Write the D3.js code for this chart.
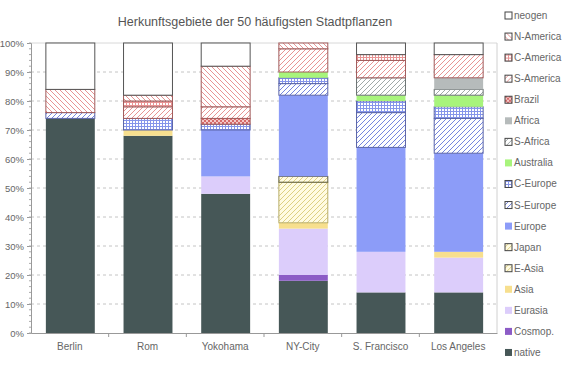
<html>
<head>
<script src="https://cdn.jsdelivr.net/npm/d3@7"></script>
<style>
    body { margin: 0; background: white; font-family: "Liberation Sans", Arial, sans-serif; }
    svg { display: block; }
</style>
</head>
<body>
<svg id="chart"></svg>
<script>
    // data
    let cities = ["Berlin", "Rom", "Yokohama", "NY-City", "S. Francisco", "Los Angeles"];
    let regions = ["native", "Cosmop.", "Eurasia", "Asia", "E-Asia", "Japan", "Europe", "S-Europe",
        "C-Europe", "Australia", "S-Africa", "Africa", "Brazil", "S-America", "C-America", "N-America", "neogen"];

    let native    = [74, 68, 48, 18, 14, 14];
    let cosmop    = [0, 0, 0, 2, 0, 0];
    let eurasia   = [0, 0, 6, 16, 14, 12];
    let asia      = [0, 2, 0, 2, 0, 2];
    let eAsia     = [0, 0, 0, 14, 0, 0];
    let japan     = [0, 0, 0, 2, 0, 0];
    let europe    = [0, 0, 16, 28, 36, 34];
    let sEurope   = [2, 0, 0, 4, 12, 12];
    let cEurope   = [0, 4, 2, 2, 4, 4];
    let australia = [0, 0, 0, 2, 2, 4];
    let sAfrica   = [0, 0, 0, 0, 6, 2];
    let africa    = [0, 0, 0, 0, 0, 4];
    let brazil    = [0, 0, 2, 0, 0, 0];
    let sAmerica  = [0, 4, 4, 8, 6, 8];
    let cAmerica  = [0, 2, 0, 0, 2, 0];
    let nAmerica  = [8, 2, 14, 2, 0, 0];
    let neogen    = [16, 18, 8, 0, 4, 4];

    let yTicks = [0, 10, 20, 30, 40, 50, 60, 70, 80, 90, 100];

    let seriesValues = [native, cosmop, eurasia, asia, eAsia, japan, europe, sEurope,
        cEurope, australia, sAfrica, africa, brazil, sAmerica, cAmerica, nAmerica, neogen];

    // table for d3.stack
    let table = cities.map((c, i) => {
        let row = { city: c };
        regions.forEach((r, j) => row[r] = seriesValues[j][i]);
        return row;
    });

    // styles per region: fill + stroke
    let styles = {
        "native":    { fill: "#465757", stroke: "none" },
        "Cosmop.":   { fill: "#8c5cc6", stroke: "none" },
        "Eurasia":   { fill: "#dccdfb", stroke: "none" },
        "Asia":      { fill: "#f7df8e", stroke: "none" },
        "E-Asia":    { fill: "url(#hatchYellow)", stroke: "#b8ad6a" },
        "Japan":     { fill: "url(#hatchYellow)", stroke: "#5c5a3c" },
        "Europe":    { fill: "#8c9cf8", stroke: "none" },
        "S-Europe":  { fill: "url(#hatchBlue)", stroke: "#5a64a8" },
        "C-Europe":  { fill: "url(#gridBlue)", stroke: "#5a64a8" },
        "Australia": { fill: "#a8f47c", stroke: "none" },
        "S-Africa":  { fill: "url(#hatchGray)", stroke: "#6a7272" },
        "Africa":    { fill: "#b6bbbb", stroke: "none" },
        "Brazil":    { fill: "url(#checkRed)", stroke: "#a05a5a" },
        "S-America": { fill: "url(#hatchRed)", stroke: "#a05a5a" },
        "C-America": { fill: "url(#gridRed)", stroke: "#a05a5a" },
        "N-America": { fill: "url(#backRed)", stroke: "#a05a5a" },
        "neogen":    { fill: "#ffffff", stroke: "#555" }
    };

    let width = 567, height = 371;
    let margin = { top: 43, bottom: 38, left: 31, right: 70 };
    let svg = d3.select("#chart").attr("width", width).attr("height", height);

    // patterns
    let defs = svg.append("defs");
    function hatch(id, color, bg, dir) {
        let p = defs.append("pattern").attr("id", id)
            .attr("patternUnits", "userSpaceOnUse").attr("width", 5).attr("height", 5);
        p.append("rect").attr("width", 5).attr("height", 5).attr("fill", bg);
        let d = dir === "/" ? "M-1,1 L1,-1 M0,5 L5,0 M4,6 L6,4" : "M-1,4 L1,6 M0,0 L5,5 M4,-1 L6,1";
        p.append("path").attr("d", d).attr("stroke", color).attr("stroke-width", 1);
    }
    function grid(id, color, bg, size) {
        let p = defs.append("pattern").attr("id", id)
            .attr("patternUnits", "userSpaceOnUse").attr("width", size).attr("height", size);
        p.append("rect").attr("width", size).attr("height", size).attr("fill", bg);
        p.append("path").attr("d", `M0,0.5 H${size} M0.5,0 V${size}`)
            .attr("stroke", color).attr("stroke-width", 1);
    }
    hatch("hatchRed", "#e89494", "#fff", "/");
    hatch("backRed", "#e89494", "#fff", "\\");
    hatch("hatchBlue", "#7585de", "#fff", "/");
    hatch("hatchGray", "#a0a8a8", "#fff", "/");
    hatch("hatchYellow", "#ddd083", "#fffbe2", "/");
    grid("gridRed", "#e89494", "#fff", 3);
    grid("gridBlue", "#8595ea", "#fff", 3);
    let cp = defs.append("pattern").attr("id", "checkRed")
        .attr("patternUnits", "userSpaceOnUse").attr("width", 4).attr("height", 4);
    cp.append("rect").attr("width", 4).attr("height", 4).attr("fill", "#f4c8c8");
    cp.append("rect").attr("width", 2).attr("height", 2).attr("fill", "#d66a6a");
    cp.append("rect").attr("x", 2).attr("y", 2).attr("width", 2).attr("height", 2).attr("fill", "#d66a6a");

    // scales
    let xScale = d3.scaleBand()
        .domain(cities)
        .range([margin.left, width - margin.right])
        .paddingInner(0.37)
        .paddingOuter(0.185);
    let xOuter = d3.scaleBand().domain(cities).range([margin.left, width - margin.right]);
    let yScale = d3.scaleLinear().domain([0, 100]).range([height - margin.bottom, margin.top]);

    // title
    svg.append("text")
        .attr("x", 255).attr("y", 26)
        .attr("text-anchor", "middle")
        .attr("font-size", 12.5)
        .attr("fill", "#555")
        .text("Herkunftsgebiete der 50 häufigsten Stadtpflanzen");

    // gridlines
    svg.append("g").selectAll("line")
        .data(yTicks.filter(t => t > 0 && t < 100))
        .enter().append("line")
        .attr("x1", margin.left).attr("x2", width - margin.right)
        .attr("y1", d => yScale(d)).attr("y2", d => yScale(d))
        .attr("stroke", "#c4c4c4").attr("stroke-dasharray", "3,3");
    svg.append("line")
        .attr("x1", margin.left).attr("x2", width - margin.right)
        .attr("y1", yScale(100)).attr("y2", yScale(100))
        .attr("stroke", "#d8d8d8");
    svg.append("line")
        .attr("x1", width - margin.right).attr("x2", width - margin.right)
        .attr("y1", yScale(100)).attr("y2", yScale(0))
        .attr("stroke", "#d0d0d0");

    // bars
    let stacked = d3.stack().keys(regions)(table);
    svg.append("g").selectAll("g")
        .data(stacked)
        .enter().append("g")
        .attr("fill", d => styles[d.key].fill)
        .attr("stroke", d => styles[d.key].stroke)
        .selectAll("rect")
        .data(d => d.filter(s => s[1] - s[0] > 0))
        .enter().append("rect")
        .attr("x", d => xScale(d.data.city) + 0.5)
        .attr("width", xScale.bandwidth())
        .attr("y", d => yScale(d[1]))
        .attr("height", d => yScale(d[0]) - yScale(d[1]));

    // axes
    let axisY = d3.axisLeft(yScale)
        .tickValues(yTicks)
        .tickSize(4)
        .tickPadding(3)
        .tickFormat(d => d + "%");
    let gy = svg.append("g")
        .attr("transform", `translate(${margin.left},0)`)
        .call(axisY);
    gy.selectAll(".tick line").attr("stroke", "#999");
    let minor = d3.range(0, 101, 2);
    gy.selectAll(".minor").data(minor).enter().append("line")
        .attr("x1", -2).attr("x2", 0)
        .attr("y1", d => yScale(d)).attr("y2", d => yScale(d))
        .attr("stroke", "#aaa");

    let axisX = d3.axisBottom(xScale).tickSize(0).tickPadding(10);
    let gx = svg.append("g")
        .attr("transform", `translate(0,${height - margin.bottom})`)
        .call(axisX);
    gx.selectAll(".sep").data(cities.slice(1)).enter().append("line")
        .attr("x1", d => xOuter(d)).attr("x2", d => xOuter(d))
        .attr("y1", 0).attr("y2", 4)
        .attr("stroke", "#999");

    [gx, gy].forEach(g => {
        g.select(".domain").attr("stroke", "#999");
        g.selectAll("text")
            .attr("fill", "#666")
            .attr("font-size", 10)
            .attr("font-family", "Liberation Sans, Arial, sans-serif");
    });
    gy.selectAll("text").attr("font-size", 9.5);

    // legend
    let legendTop = 15.5, legendStep = 21.06;
    let legend = svg.append("g").selectAll("g")
        .data(regions.slice().reverse())
        .enter().append("g")
        .attr("transform", (d, i) => `translate(505,${legendTop + i * legendStep})`);
    legend.append("rect")
        .attr("x", 0).attr("y", -3.5).attr("width", 7).attr("height", 7)
        .attr("fill", d => styles[d].fill)
        .attr("stroke", d => styles[d].stroke === "none" ? "none" : "#444");
    legend.append("text")
        .attr("x", 9).attr("y", 0).attr("dy", "0.35em")
        .attr("font-size", 10)
        .attr("fill", "#666")
        .text(d => d);
</script>
</body>
</html>
